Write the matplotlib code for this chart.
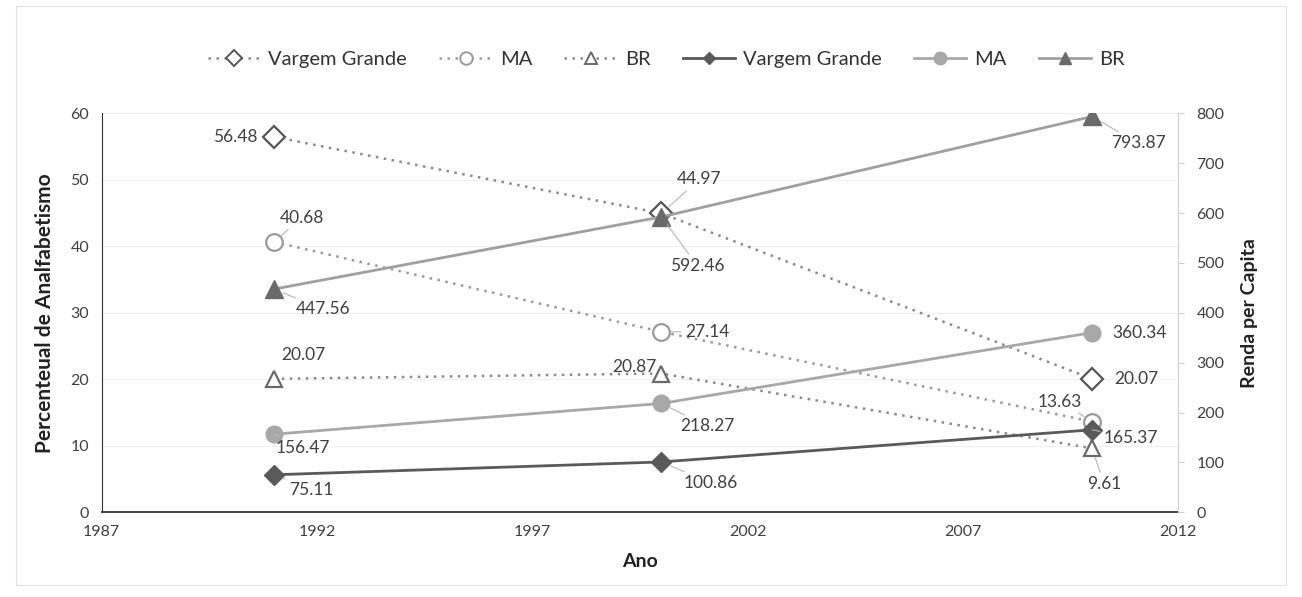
import matplotlib
matplotlib.use("Agg")
import matplotlib.pyplot as plt
from matplotlib.lines import Line2D
from matplotlib.patches import Rectangle

plt.rcParams['font.family'] = ['Lato', 'DejaVu Sans']

anos = [1991, 2000, 2010]

# Percentual de analfabetismo (eixo esquerdo)
analf_vg = [56.48, 44.97, 20.07]
analf_ma = [40.68, 27.14, 13.63]
analf_br = [20.07, 20.87, 9.61]

# Renda per capita (eixo direito)
renda_vg = [75.11, 100.86, 165.37]
renda_ma = [156.47, 218.27, 360.34]
renda_br = [447.56, 592.46, 793.87]

x_ticks = [1987, 1992, 1997, 2002, 2007, 2012]
y_left_ticks = [0, 10, 20, 30, 40, 50, 60]
y_right_ticks = [0, 100, 200, 300, 400, 500, 600, 700, 800]

fig = plt.figure(figsize=(13.02, 5.97), dpi=100)
ax = fig.add_axes([0.078, 0.142, 0.827, 0.668])
ax2 = ax.twinx()

fig.patches.append(Rectangle((0.012, 0.02), 0.976, 0.97, transform=fig.transFigure,
                             fill=False, edgecolor='#e2e2e2', lw=0.8, zorder=0))

lbl_color = '#404040'
lead = dict(arrowstyle='-', color='#b5b5b5', lw=0.8, shrinkA=1, shrinkB=7)

# Séries de analfabetismo (pontilhadas, marcadores vazados)
styles_left = [
    (analf_vg, 'D', '#555555', '#8a8a8a', 11),
    (analf_ma, 'o', '#9a9a9a', '#9a9a9a', 12),
    (analf_br, '^', '#6a6a6a', '#8a8a8a', 12),
]
for vals, mk, mec, lc, ms in styles_left:
    ax.plot(anos, vals, linestyle=(0, (1, 2.2)), color=lc, lw=1.8, marker=mk,
            markersize=ms, markerfacecolor='white', markeredgecolor=mec,
            markeredgewidth=1.6, zorder=3)

# Séries de renda (linhas contínuas, marcadores cheios)
styles_right = [
    (renda_vg, 'D', '#5a5a5a', '#5a5a5a', 10),
    (renda_ma, 'o', '#a8a8a8', '#a8a8a8', 12),
    (renda_br, '^', '#6a6a6a', '#a0a0a0', 13),
]
for vals, mk, mc, lc, ms in styles_right:
    ax2.plot(anos, vals, linestyle='-', color=lc, lw=2.0, marker=mk,
             markersize=ms, markerfacecolor=mc, markeredgecolor=mc, zorder=3)

def rotulo(axis, x, y, txt, dx, dy, ha='center', leader=True):
    axis.annotate(txt, (x, y), xytext=(dx, dy), textcoords='offset pixels',
                  ha=ha, va='center', fontsize=12.5, color=lbl_color,
                  arrowprops=lead if leader else None, zorder=5)

# Rótulos de analfabetismo
rotulo(ax, anos[0], analf_vg[0], f"{analf_vg[0]:.2f}", -16, 0, ha='right', leader=False)
rotulo(ax, anos[1], analf_vg[1], f"{analf_vg[1]:.2f}", 38, 34)
rotulo(ax, anos[2], analf_vg[2], f"{analf_vg[2]:.2f}", 22, 0, ha='left', leader=False)
rotulo(ax, anos[0], analf_ma[0], f"{analf_ma[0]:.2f}", 28, 24)
rotulo(ax, anos[1], analf_ma[1], f"{analf_ma[1]:.2f}", 46, 0)
rotulo(ax, anos[2], analf_ma[2], f"{analf_ma[2]:.2f}", -32, 20)
rotulo(ax, anos[0], analf_br[0], f"{analf_br[0]:.2f}", 30, 24, leader=False)
rotulo(ax, anos[1], analf_br[1], f"{analf_br[1]:.2f}", -27, 7, leader=False)
rotulo(ax, anos[2], analf_br[2], f"{analf_br[2]:.2f}", 12, -36)

# Rótulos de renda
rotulo(ax2, anos[0], renda_br[0], f"{renda_br[0]:.2f}", 49, -20)
rotulo(ax2, anos[1], renda_br[1], f"{renda_br[1]:.2f}", 36, -49)
rotulo(ax2, anos[2], renda_br[2], f"{renda_br[2]:.2f}", 46, -27)
rotulo(ax2, anos[0], renda_ma[0], f"{renda_ma[0]:.2f}", 29, -14)
rotulo(ax2, anos[1], renda_ma[1], f"{renda_ma[1]:.2f}", 46, -23)
rotulo(ax2, anos[2], renda_ma[2], f"{renda_ma[2]:.2f}", 20, 0, ha='left', leader=False)
rotulo(ax2, anos[0], renda_vg[0], f"{renda_vg[0]:.2f}", 37, -15)
rotulo(ax2, anos[1], renda_vg[1], f"{renda_vg[1]:.2f}", 49, -21)
rotulo(ax2, anos[2], renda_vg[2], f"{renda_vg[2]:.2f}", 39, -8)

# Eixos
ax.set_xlim(x_ticks[0], x_ticks[-1])
ax.set_xticks(x_ticks)
ax.set_ylim(y_left_ticks[0], y_left_ticks[-1])
ax.set_yticks(y_left_ticks)
ax2.set_ylim(y_right_ticks[0], y_right_ticks[-1])
ax2.set_yticks(y_right_ticks)

ax.yaxis.grid(True, color='#f0f0f0', lw=0.8)
ax.set_axisbelow(True)

for a in (ax, ax2):
    a.spines['top'].set_visible(False)
    a.tick_params(length=0, labelsize=11.5, labelcolor='#404040', pad=9)
ax.spines['left'].set_color('#333333')
ax.spines['bottom'].set_color('#333333')
ax.spines['bottom'].set_linewidth(1.3)
ax.spines['right'].set_visible(False)
ax2.spines['left'].set_visible(False)
ax2.spines['bottom'].set_visible(False)
ax2.spines['right'].set_color('#d0d0d0')
ax2.tick_params(axis='y', length=4, color='#d0d0d0')

ax.set_xlabel('Ano', fontsize=14, fontweight='bold', color='#222222', labelpad=10)
ax.set_ylabel('Percenteual de Analfabetismo', fontsize=15, fontweight='bold',
              color='#222222', labelpad=11)
ax2.set_ylabel('Renda per Capita', fontsize=14, fontweight='bold',
               color='#222222', labelpad=12)

# Legenda
handles = [
    Line2D([], [], linestyle=(0, (1, 2.2)), color='#8a8a8a', lw=1.8, marker='D', markersize=8,
           markerfacecolor='white', markeredgecolor='#555555', markeredgewidth=1.4),
    Line2D([], [], linestyle=(0, (1, 2.2)), color='#9a9a9a', lw=1.8, marker='o', markersize=9,
           markerfacecolor='white', markeredgecolor='#9a9a9a', markeredgewidth=1.4),
    Line2D([], [], linestyle=(0, (1, 2.2)), color='#8a8a8a', lw=1.8, marker='^', markersize=9,
           markerfacecolor='white', markeredgecolor='#6a6a6a', markeredgewidth=1.4),
    Line2D([], [], linestyle='-', color='#5a5a5a', lw=2, marker='D', markersize=6,
           markerfacecolor='#5a5a5a', markeredgecolor='#5a5a5a'),
    Line2D([], [], linestyle='-', color='#a8a8a8', lw=2, marker='o', markersize=9,
           markerfacecolor='#a8a8a8', markeredgecolor='#a8a8a8'),
    Line2D([], [], linestyle='-', color='#a0a0a0', lw=2, marker='^', markersize=9,
           markerfacecolor='#6a6a6a', markeredgecolor='#6a6a6a'),
]
labels = ['Vargem Grande', 'MA', 'BR', 'Vargem Grande', 'MA', 'BR']
fig.legend(handles, labels, loc='center', bbox_to_anchor=(0.512, 0.9), ncol=6,
           frameon=False, fontsize=14.5, handlelength=2.6, handletextpad=0.4,
           columnspacing=1.6, labelcolor='#333333')

fig.savefig('out.png', dpi=100, facecolor='white')
